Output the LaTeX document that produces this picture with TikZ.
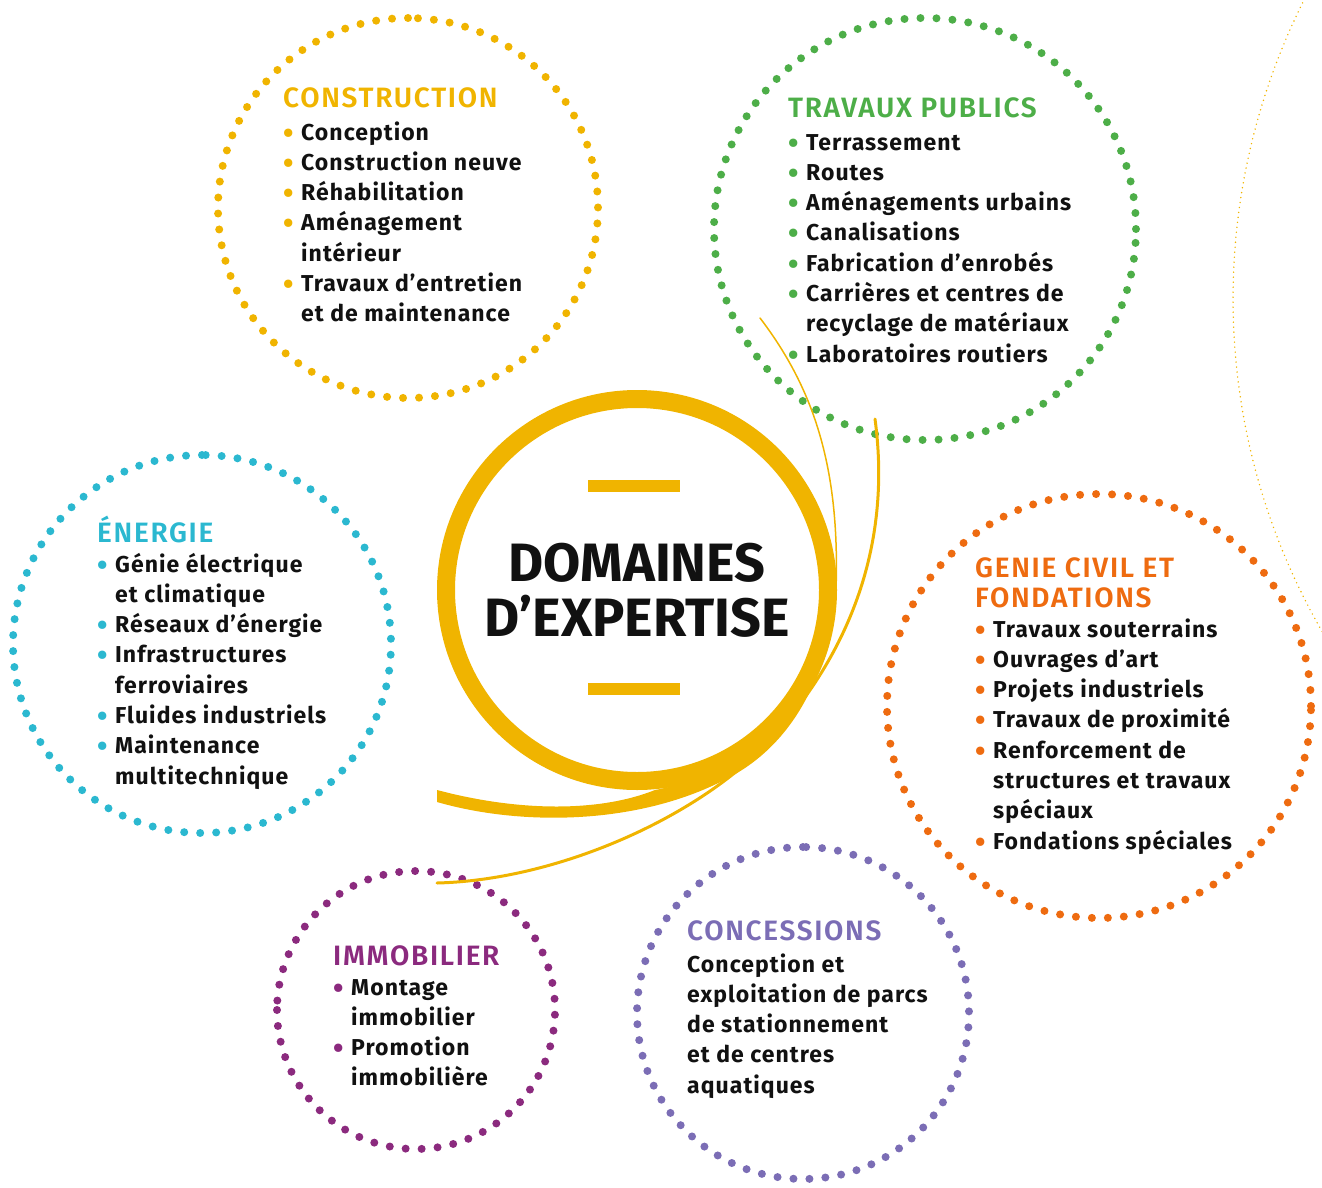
\documentclass[tikz,border=0pt]{standalone}
\usepackage{fontspec}
\setmainfont{Fira Sans}
\newfontfamily\headfont{Fira Sans SemiBold}[LetterSpace=6]
\newfontfamily\itemfont{Fira Sans}[LetterSpace=4.5]
\usetikzlibrary{positioning}
\definecolor{gold}{HTML}{F0B400}
\definecolor{tpgreen}{HTML}{4DAE48}
\definecolor{encyan}{HTML}{2BB8D0}
\definecolor{gcorange}{HTML}{EE6B10}
\definecolor{immpurple}{HTML}{8B2A7E}
\definecolor{conviolet}{HTML}{7B6DB5}
\definecolor{ink}{HTML}{111111}
\tikzset{
  dotring/.style={circle, draw=#1, line width=8pt, line cap=round, dash pattern=on 0pt off 16pt, inner sep=0pt},
  head/.style={anchor=base west, inner sep=0pt, text=#1, font=\headfont\fontsize{28}{30}\selectfont, align=left},
  items/.style={anchor=base west, inner sep=0pt, text=ink, font=\itemfont\bfseries\fontsize{23}{30.3}\selectfont, align=left},
  swoosh/.style={draw=gold, line cap=round},
}
\newcommand{\bul}[1]{\makebox[18pt][l]{\raisebox{-3pt}{\fontsize{30}{30}\selectfont\textcolor{#1}{\textbullet}}}}
\newcommand{\ind}{\hspace*{18pt}}

\begin{document}
\begin{tikzpicture}[x=1pt, y=-1pt]
  \useasboundingbox (0,0) rectangle (1322,1188);

  % big thin dotted arc on the right
  \draw[gold, line width=1.6pt, line cap=round, dash pattern=on 0pt off 5pt, domain=150:206.7, samples=80, variable=\t]
    plot ({1898+665*cos(\t)}, {299+665*sin(\t)});

  % dotted circles
  \node[dotring=gold, minimum size=380pt, rotate=90] (cons) at (408,208) {};
  \node[dotring=tpgreen, minimum size=422pt] (tp) at (925,229) {};
  \node[dotring=encyan, minimum size=378pt, rotate=90] (en) at (202,644) {};
  \node[dotring=gcorange, minimum size=424pt] (gc) at (1099,706) {};
  \node[dotring=immpurple, minimum size=278pt, rotate=180] (imm) at (416,1010) {};
  \node[dotring=conviolet, minimum size=332pt, rotate=90] (conc) at (803,1013) {};

  % swooshes round the centre
  \draw[swoosh, line width=1.5pt] (760,318) .. controls (815,390) and (840,470) .. (836,590);
  \draw[swoosh, line width=3pt] (875,419) .. controls (890,530) and (860,640) .. (773,737)
    .. controls (703,815) and (560,880) .. (437,883);
  \fill[gold] (437,802) .. controls (520,826) and (640,826) .. (730,777)
    .. controls (790,745) and (828,680) .. (837,590)
    .. controls (830,680) and (760,770) .. (655,790)
    .. controls (600,812) and (520,812) .. (437,790) -- cycle;

  % centre
  \node[circle, draw=gold, line width=18pt, minimum size=382pt, inner sep=0pt] (ring) at (637,590) {};
  \node[font=\bfseries\fontsize{54}{55}\selectfont, align=center, text=ink, inner sep=0pt] (title) at (637,590) {DOMAINES\\D’EXPERTISE};
  \fill[gold] (588,480) rectangle (680,492);
  \fill[gold] (588,683) rectangle (680,695);

  % construction
  \node[head=gold] (consT) at (283,108) {CONSTRUCTION};
  \node[items] (consL) at ([yshift=-213.8pt]consT.base west) {%
    \bul{gold}Conception\\
    \bul{gold}Construction neuve\\
    \bul{gold}Réhabilitation\\
    \bul{gold}Aménagement\\
    \ind intérieur\\
    \bul{gold}Travaux d’entretien\\
    \ind et de maintenance};

  % travaux publics
  \node[head=tpgreen] (tpT) at (788,118) {TRAVAUX PUBLICS};
  \node[items] (tpL) at ([yshift=-244.1pt]tpT.base west) {%
    \bul{tpgreen}Terrassement\\
    \bul{tpgreen}Routes\\
    \bul{tpgreen}Aménagements urbains\\
    \bul{tpgreen}Canalisations\\
    \bul{tpgreen}Fabrication d’enrobés\\
    \bul{tpgreen}Carrières et centres de\\
    \ind recyclage de matériaux\\
    \bul{tpgreen}Laboratoires routiers};

  % energie
  \node[head=encyan] (enT) at (97,542) {ÉNERGIE};
  \node[items] (enL) at ([yshift=-242.1pt]enT.base west) {%
    \bul{encyan}Génie électrique\\
    \ind et climatique\\
    \bul{encyan}Réseaux d’énergie\\
    \bul{encyan}Infrastructures\\
    \ind ferroviaires\\
    \bul{encyan}Fluides industriels\\
    \bul{encyan}Maintenance\\
    \ind multitechnique};

  % genie civil
  \node[head=gcorange] (gcT) at (975,607) {GENIE CIVIL ET\\FONDATIONS};
  \node[items] (gcL) at ([yshift=-242.1pt]gcT.base west) {%
    \bul{gcorange}Travaux souterrains\\
    \bul{gcorange}Ouvrages d’art\\
    \bul{gcorange}Projets industriels\\
    \bul{gcorange}Travaux de proximité\\
    \bul{gcorange}Renforcement de\\
    \ind structures et travaux\\
    \ind spéciaux\\
    \bul{gcorange}Fondations spéciales};

  % immobilier
  \node[head=immpurple] (immT) at (333,965) {IMMOBILIER};
  \node[items] (immL) at ([yshift=-120.9pt]immT.base west) {%
    \bul{immpurple}Montage\\
    \ind immobilier\\
    \bul{immpurple}Promotion\\
    \ind immobilière};

  % concessions
  \node[head=conviolet] (concT) at (687,940) {CONCESSIONS};
  \node[items] (concL) at ([yshift=-153.2pt]concT.base west) {%
    Conception et\\
    exploitation de parcs\\
    de stationnement\\
    et de centres\\
    aquatiques};
\end{tikzpicture}
\end{document}
